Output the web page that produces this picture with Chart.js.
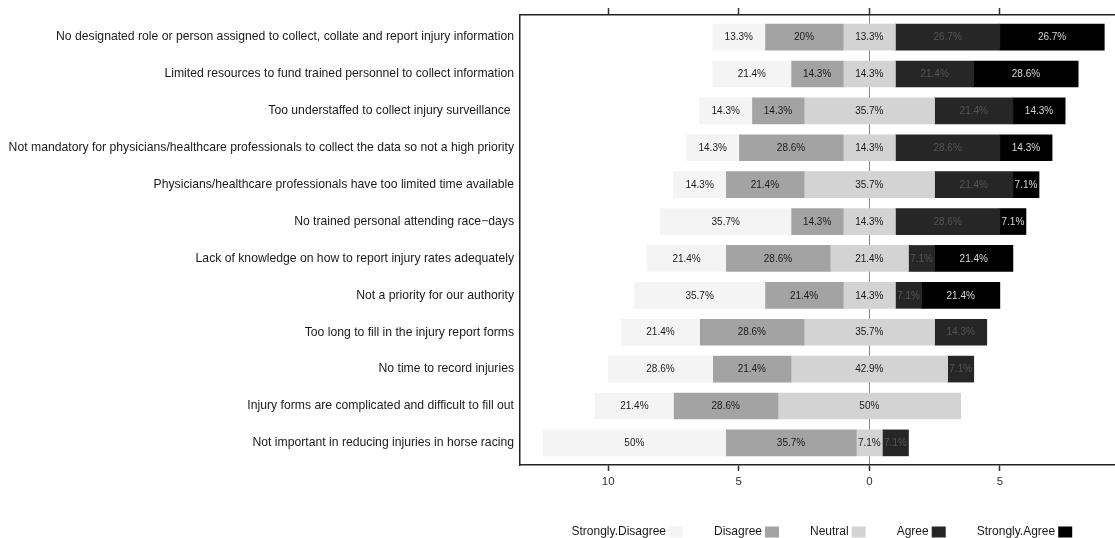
<!DOCTYPE html>
<html><head><meta charset="utf-8">
<script src="https://cdn.jsdelivr.net/npm/chart.js@4.4.1/dist/chart.umd.min.js"></script>
<style>html,body{margin:0;padding:0;background:#fff;} #wrap{width:1115px;height:538px;position:relative;}</style>
</head><body><div id="wrap"><canvas id="c" width="1115" height="538"></canvas></div>
<script>
const categories = [
  'No designated role or person assigned to collect, collate and report injury information',
  'Limited resources to fund trained personnel to collect information',
  'Too understaffed to collect injury surveillance ',
  'Not mandatory for physicians/healthcare professionals to collect the data so not a high priority',
  'Physicians/healthcare professionals have too limited time available',
  'No trained personal attending race\u2212days',
  'Lack of knowledge on how to report injury rates adequately',
  'Not a priority for our authority',
  'Too long to fill in the injury report forms',
  'No time to record injuries',
  'Injury forms are complicated and difficult to fill out',
  'Not important in reducing injuries in horse racing'
];
const stronglyDisagree = [2,3,2,2,2,5,3,5,3,4,3,7];
const disagree         = [3,2,2,4,3,2,4,3,4,3,4,5];
const neutral          = [2,2,5,2,5,2,3,2,5,6,7,1];
const agree            = [4,3,3,4,3,4,1,1,2,1,0,1];
const stronglyAgree    = [4,4,2,2,1,1,3,3,0,0,0,0];
const responseLevels = ['Strongly.Disagree','Disagree','Neutral','Agree','Strongly.Agree'];
const xTickValues = [-10,-5,0,5];

const fillColors = ['#f4f4f4','#a3a3a3','#d3d3d3','#262626','#000000'];
const textColors = ['#1a1a1a','#1a1a1a','#1a1a1a','#555555','#d8d8d8'];
const FONT = "'Liberation Sans', Arial, Helvetica, sans-serif";

function pct(n, total){
  let s = (n/total*100).toFixed(1);
  if (s.endsWith('.0')) s = s.slice(0,-2);
  return s + '%';
}

const seriesCounts = [stronglyDisagree, disagree, neutral, agree, stronglyAgree];
const datasets = responseLevels.map((lvl, k) => ({
  label: lvl,
  data: [],
  backgroundColor: fillColors[k],
  borderWidth: 0,
  grouped: false,
  barThickness: 26
}));
categories.forEach((cat, i) => {
  const sd = stronglyDisagree[i], d = disagree[i], n = neutral[i], a = agree[i], sa = stronglyAgree[i];
  const total = sd + d + n + a + sa;
  const h = n / 2;
  const segs = [
    [-(h + d + sd), -(h + d)],
    [-(h + d), -h],
    [-h, h],
    [h, h + a],
    [h + a, h + a + sa]
  ];
  segs.forEach((s, k) => {
    const cnt = seriesCounts[k][i];
    if (cnt > 0) datasets[k].data.push({x: s, y: i + 1, pct: pct(cnt, total)});
  });
});

const barLabels = {
  id: 'barLabels',
  afterDatasetsDraw(chart) {
    const ctx = chart.ctx;
    ctx.save();
    ctx.font = '10px ' + FONT;
    ctx.textAlign = 'center';
    ctx.textBaseline = 'middle';
    chart.data.datasets.forEach((ds, k) => {
      const meta = chart.getDatasetMeta(k);
      meta.data.forEach((el, j) => {
        const raw = ds.data[j];
        ctx.fillStyle = textColors[k];
        ctx.fillText(raw.pct, (el.x + el.base) / 2, el.y + 0.5);
      });
    });
    ctx.restore();
  }
};

const likertLegend = {
  id: 'likertLegend',
  afterDraw(chart) {
    const ctx = chart.ctx;
    ctx.save();
    ctx.font = '12px ' + FONT;
    ctx.textBaseline = 'middle';
    ctx.textAlign = 'left';
    let x = 571.5;
    const yc = 532;
    responseLevels.forEach((lvl, k) => {
      ctx.fillStyle = '#1a1a1a';
      ctx.fillText(lvl, x, yc);
      x += ctx.measureText(lvl).width + 3;
      ctx.fillStyle = fillColors[k];
      ctx.fillRect(x, yc - 5.5, 14, 11);
      x += 14 + 31;
    });
    ctx.restore();
  }
};

const xMin = -13.38, xMax = 9.41;
const tickFont = {family: FONT, size: 11.5};

new Chart(document.getElementById('c'), {
  type: 'bar',
  data: { datasets },
  options: {
    indexAxis: 'y',
    responsive: false,
    animation: false,
    layout: { padding: 0 },
    plugins: { legend: { display: false }, tooltip: { enabled: false } },
    scales: {
      x: {
        type: 'linear', position: 'bottom', min: xMin, max: xMax, offset: false,
        afterBuildTicks: s => { s.ticks = xTickValues.map(v => ({value: v})); },
        afterFit: s => { s.height = 73; },
        grid: {
          color: c => (c.tick && c.tick.value === 0) ? '#8a8a8a' : 'rgba(0,0,0,0)',
          lineWidth: 1, tickColor: '#333', tickLength: 6, tickWidth: 1.5
        },
        border: { display: true, color: '#222', width: 1.5 },
        ticks: { callback: v => String(Math.abs(v)), color: '#333', font: tickFont, padding: 4, maxRotation: 0, autoSkip: false }
      },
      x2: {
        type: 'linear', axis: 'x', position: 'top', min: xMin, max: xMax, offset: false,
        afterBuildTicks: s => { s.ticks = xTickValues.map(v => ({value: v})); },
        afterFit: s => { s.height = 15; },
        grid: { drawOnChartArea: false, tickColor: '#333', tickLength: 7, tickWidth: 1.5 },
        border: { display: true, color: '#222', width: 1.5 },
        ticks: { display: false }
      },
      y: {
        type: 'linear', reverse: true, min: 0.4, max: 12.6, offset: false,
        afterBuildTicks: s => { s.ticks = categories.map((_, i) => ({value: i + 1})); },
        afterFit: s => { s.width = 520; },
        grid: { display: false, drawTicks: false },
        border: { display: true, color: '#222', width: 1.5 },
        ticks: {
          callback: v => categories[Math.round(v) - 1],
          padding: 6, color: '#1a1a1a', font: {family: FONT, size: 12.2}, autoSkip: false
        }
      }
    }
  },
  plugins: [barLabels, likertLegend]
});
</script>
</body></html>
